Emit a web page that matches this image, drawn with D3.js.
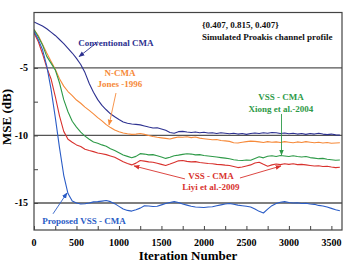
<!DOCTYPE html>
<meta charset="utf-8">
<style>
  body { margin: 0; background: #fff; }
  svg text { font-family: "Liberation Serif", "DejaVu Serif", serif !important; font-weight: bold; }
</style>
<body>
<script src="https://d3js.org/d3.v7.min.js"></script>
<script>
// iteration grid shared by all curves (step 50)
var iterations = d3.range(0, 3601, 50);

var mseConventional = [-1.60,-1.75,-1.90,-2.10,-2.35,-2.60,-2.90,-3.20,-3.55,-3.90,-4.30,-4.75,-5.35,-6.15,-6.80,-7.35,-7.78,-8.10,-8.40,-8.62,-8.82,-9.00,-9.10,-9.15,-9.18,-9.22,-9.30,-9.38,-9.45,-9.43,-9.52,-9.62,-9.78,-9.84,-9.72,-9.70,-9.75,-9.78,-9.74,-9.80,-9.76,-9.82,-9.80,-9.86,-9.80,-9.84,-9.88,-9.84,-9.90,-9.86,-9.92,-9.86,-9.82,-9.86,-9.80,-9.84,-9.78,-9.80,-9.86,-9.82,-9.88,-9.84,-9.90,-9.86,-9.92,-9.86,-9.90,-9.84,-9.90,-9.94,-9.90,-9.96,-9.98];
var mseNcma = [-2.16,-2.60,-3.25,-3.90,-4.50,-5.10,-5.80,-6.35,-6.75,-7.05,-7.38,-7.62,-7.90,-8.15,-8.40,-8.68,-8.92,-9.20,-9.42,-9.60,-9.72,-9.82,-9.88,-9.92,-9.90,-9.86,-9.92,-10.00,-10.08,-10.14,-10.18,-10.22,-10.26,-10.18,-10.12,-10.14,-10.10,-10.16,-10.12,-10.20,-10.24,-10.28,-10.32,-10.30,-10.38,-10.40,-10.44,-10.54,-10.56,-10.50,-10.46,-10.42,-10.44,-10.48,-10.52,-10.46,-10.50,-10.48,-10.52,-10.46,-10.50,-10.54,-10.48,-10.52,-10.46,-10.50,-10.54,-10.50,-10.56,-10.52,-10.58,-10.56,-10.54];
var mseXiong = [-2.16,-2.70,-3.30,-4.15,-4.65,-5.15,-6.10,-7.35,-8.25,-8.95,-9.38,-9.75,-10.05,-10.28,-10.48,-10.58,-10.70,-10.80,-10.98,-11.12,-11.28,-11.45,-11.55,-11.65,-11.55,-11.35,-11.38,-11.44,-11.42,-11.50,-11.60,-11.70,-11.62,-11.50,-11.46,-11.40,-11.36,-11.38,-11.44,-11.42,-11.48,-11.52,-11.56,-11.60,-11.64,-11.68,-11.72,-11.80,-11.84,-11.86,-11.82,-11.84,-11.70,-11.58,-11.66,-11.54,-11.50,-11.56,-11.48,-11.52,-11.56,-11.50,-11.56,-11.60,-11.56,-11.64,-11.68,-11.72,-11.70,-11.76,-11.80,-11.84,-11.82];
var mseLiyi = [-2.41,-3.05,-3.95,-4.98,-5.80,-7.10,-8.55,-9.70,-10.28,-10.50,-10.70,-10.82,-11.02,-11.12,-11.20,-11.30,-11.36,-11.42,-11.52,-11.62,-11.78,-11.95,-12.08,-12.18,-12.05,-11.85,-11.90,-11.96,-11.98,-12.06,-12.14,-12.22,-12.12,-12.00,-11.88,-11.86,-11.92,-11.96,-11.94,-12.00,-12.04,-12.08,-12.10,-12.14,-12.16,-12.20,-12.22,-12.30,-12.38,-12.34,-12.26,-12.18,-12.04,-11.98,-12.14,-12.28,-12.18,-12.12,-12.16,-12.10,-12.14,-12.10,-12.16,-12.14,-12.18,-12.22,-12.26,-12.24,-12.30,-12.28,-12.34,-12.38,-12.36];
var mseProposed = [-2.29,-2.90,-3.65,-4.85,-6.55,-8.65,-10.90,-12.95,-14.30,-14.85,-15.00,-15.08,-15.06,-15.00,-14.92,-14.90,-14.86,-14.82,-14.90,-15.05,-15.25,-15.45,-15.55,-15.60,-15.50,-15.38,-15.20,-15.22,-15.26,-15.24,-15.14,-15.04,-14.96,-14.90,-14.96,-15.08,-15.16,-15.24,-15.30,-15.32,-15.34,-15.30,-15.28,-15.20,-15.14,-15.08,-15.04,-15.10,-15.16,-15.20,-15.24,-15.30,-15.44,-15.62,-15.74,-15.46,-15.20,-15.04,-14.94,-14.90,-14.96,-15.00,-14.98,-15.04,-15.02,-15.08,-15.10,-15.18,-15.22,-15.30,-15.40,-15.50,-15.58];

var seriesNames = ["conv", "ncma", "xiong", "liyi", "proposed"];
var seriesColors = {conv: "#2d3190", ncma: "#f68a3a", xiong: "#2e9a48", liyi: "#d8322e", proposed: "#2a5cc6"};

var xTicks = [0, 500, 1000, 1500, 2000, 2500, 3000, 3500];
var yTicks = [-5, -10, -15];
var yMinorTicks = [-5, -7.5, -10, -12.5, -15];

// annotations in data units: [iteration, dB]
var labels = [
  {s: "conv", lines: ["Conventional CMA"], at: [965, -3.38], from: [753, -3.06], to: [530, -4.17]},
  {s: "ncma", lines: ["N-CMA", "Jones -1996"], at: [1012, -5.6], from: [965, -6.86], to: [883, -9.23]},
  {s: "xiong", lines: ["VSS - CMA", "Xiong et al.-2004"], at: [2907, -7.38], from: [2913, -8.41], to: [2913, -11.45]},
  {s: "liyi", lines: ["VSS - CMA", "Liyi et al.-2009"], at: [2083, -13.22], from: [1777, -13.22], to: [1177, -12.26]},
  {s: "liyi", lines: [], from: [2424, -13.15], to: [2907, -12.26]},
  {s: "proposed", lines: ["Proposed VSS - CMA"], at: [588, -16.55], from: [224, -15.8], to: [388, -14.26]}
];
var profileText = ["{0.407, 0.815, 0.407}", "Simulated Proakis channel profile"];

var width = 344, height = 263;
var serif = "'Liberation Serif', 'DejaVu Serif', serif";
var x = d3.scaleLinear().domain([0, 3625]).range([34, 342]);
var y = d3.scaleLinear().domain([-17, -0.9]).range([230, 12.5]);

var svg = d3.select("body").append("svg")
    .attr("width", width)
    .attr("height", height)
    .attr("font-family", serif)
    .attr("font-weight", "bold");

var defs = svg.append("defs");
seriesNames.forEach(function(s) {
  defs.append("marker")
      .attr("id", "arr-" + s)
      .attr("viewBox", "0 0 10 10")
      .attr("refX", 9).attr("refY", 5)
      .attr("markerWidth", 6).attr("markerHeight", 6)
      .attr("markerUnits", "userSpaceOnUse")
      .attr("orient", "auto")
    .append("path")
      .attr("d", "M0,1 L10,5 L0,9 Z")
      .attr("fill", seriesColors[s]);
});
defs.append("clipPath").attr("id", "clip")
  .append("rect")
    .attr("x", x(0)).attr("y", y(-0.9))
    .attr("width", x(3625) - x(0)).attr("height", y(-17) - y(-0.9));

// grid lines
svg.append("g").selectAll("line")
    .data(yTicks)
  .enter().append("line")
    .attr("x1", x(0)).attr("x2", x(3625))
    .attr("y1", function(d) { return y(d); })
    .attr("y2", function(d) { return y(d); })
    .attr("stroke", "#555").attr("stroke-width", 1.3);

// curves
var line = d3.line()
    .x(function(d) { return x(d[0]); })
    .y(function(d) { return y(d[1]); });
var seriesData = {conv: mseConventional, ncma: mseNcma, xiong: mseXiong, liyi: mseLiyi, proposed: mseProposed};
var curves = svg.append("g").attr("clip-path", "url(#clip)");
seriesNames.forEach(function(s) {
  curves.append("path")
      .datum(d3.zip(iterations, seriesData[s]))
      .attr("d", line)
      .attr("fill", "none")
      .attr("stroke", seriesColors[s])
      .attr("stroke-width", 1.1)
      .attr("stroke-linejoin", "round");
});

// frame
svg.append("rect")
    .attr("x", x(0)).attr("y", y(-0.9))
    .attr("width", x(3625) - x(0)).attr("height", y(-17) - y(-0.9))
    .attr("fill", "none").attr("stroke", "#444").attr("stroke-width", 1.2);

// axes
var xAxis = d3.axisBottom(x).tickValues(d3.range(0, 3601, 250)).tickSizeInner(-4).tickSizeOuter(0).tickFormat("");
svg.append("g")
    .attr("transform", "translate(0," + y(-17) + ")")
    .call(xAxis)
    .call(function(g) { g.select(".domain").remove(); g.selectAll("line").attr("stroke", "#444"); });
svg.append("g").selectAll("text")
    .data(xTicks)
  .enter().append("text")
    .attr("x", function(d) { return x(d); })
    .attr("y", 245.5)
    .attr("text-anchor", "middle")
    .attr("font-size", 10)
    .text(function(d) { return d; });

var yAxis = d3.axisLeft(y).tickValues(yMinorTicks).tickSizeInner(-4).tickSizeOuter(0).tickFormat("");
svg.append("g")
    .attr("transform", "translate(" + x(0) + ",0)")
    .call(yAxis)
    .call(function(g) { g.select(".domain").remove(); g.selectAll("line").attr("stroke", "#444"); });
svg.append("g").selectAll("text")
    .data(yTicks)
  .enter().append("text")
    .attr("x", 28)
    .attr("y", function(d) { return y(d); })
    .attr("dy", "0.35em")
    .attr("text-anchor", "end")
    .attr("font-size", 10)
    .text(function(d) { return d; });

svg.append("text")
    .attr("x", 188).attr("y", 259.5)
    .attr("text-anchor", "middle")
    .attr("font-size", 13)
    .text("Iteration Number");
svg.append("text")
    .attr("transform", "translate(11,117) rotate(-90)")
    .attr("text-anchor", "middle")
    .attr("font-size", 13)
    .text("MSE (dB)");

// profile note
svg.append("g").selectAll("text")
    .data(profileText)
  .enter().append("text")
    .attr("x", x(1977))
    .attr("y", function(d, i) { return y(-2.05) + i * 12; })
    .attr("font-size", 9)
    .attr("fill", "#111")
    .text(function(d) { return d; });

// annotations
labels.forEach(function(a) {
  var c = seriesColors[a.s];
  svg.append("line")
      .attr("x1", x(a.from[0])).attr("y1", y(a.from[1]))
      .attr("x2", x(a.to[0])).attr("y2", y(a.to[1]))
      .attr("stroke", c).attr("stroke-width", 0.9)
      .attr("marker-end", "url(#arr-" + a.s + ")");
  a.lines.forEach(function(t, i) {
    svg.append("text")
        .attr("x", x(a.at[0]))
        .attr("y", y(a.at[1]) + i * 11.5)
        .attr("text-anchor", "middle")
        .attr("font-size", 9)
        .attr("fill", c)
        .text(t);
  });
});
</script>
</body>
